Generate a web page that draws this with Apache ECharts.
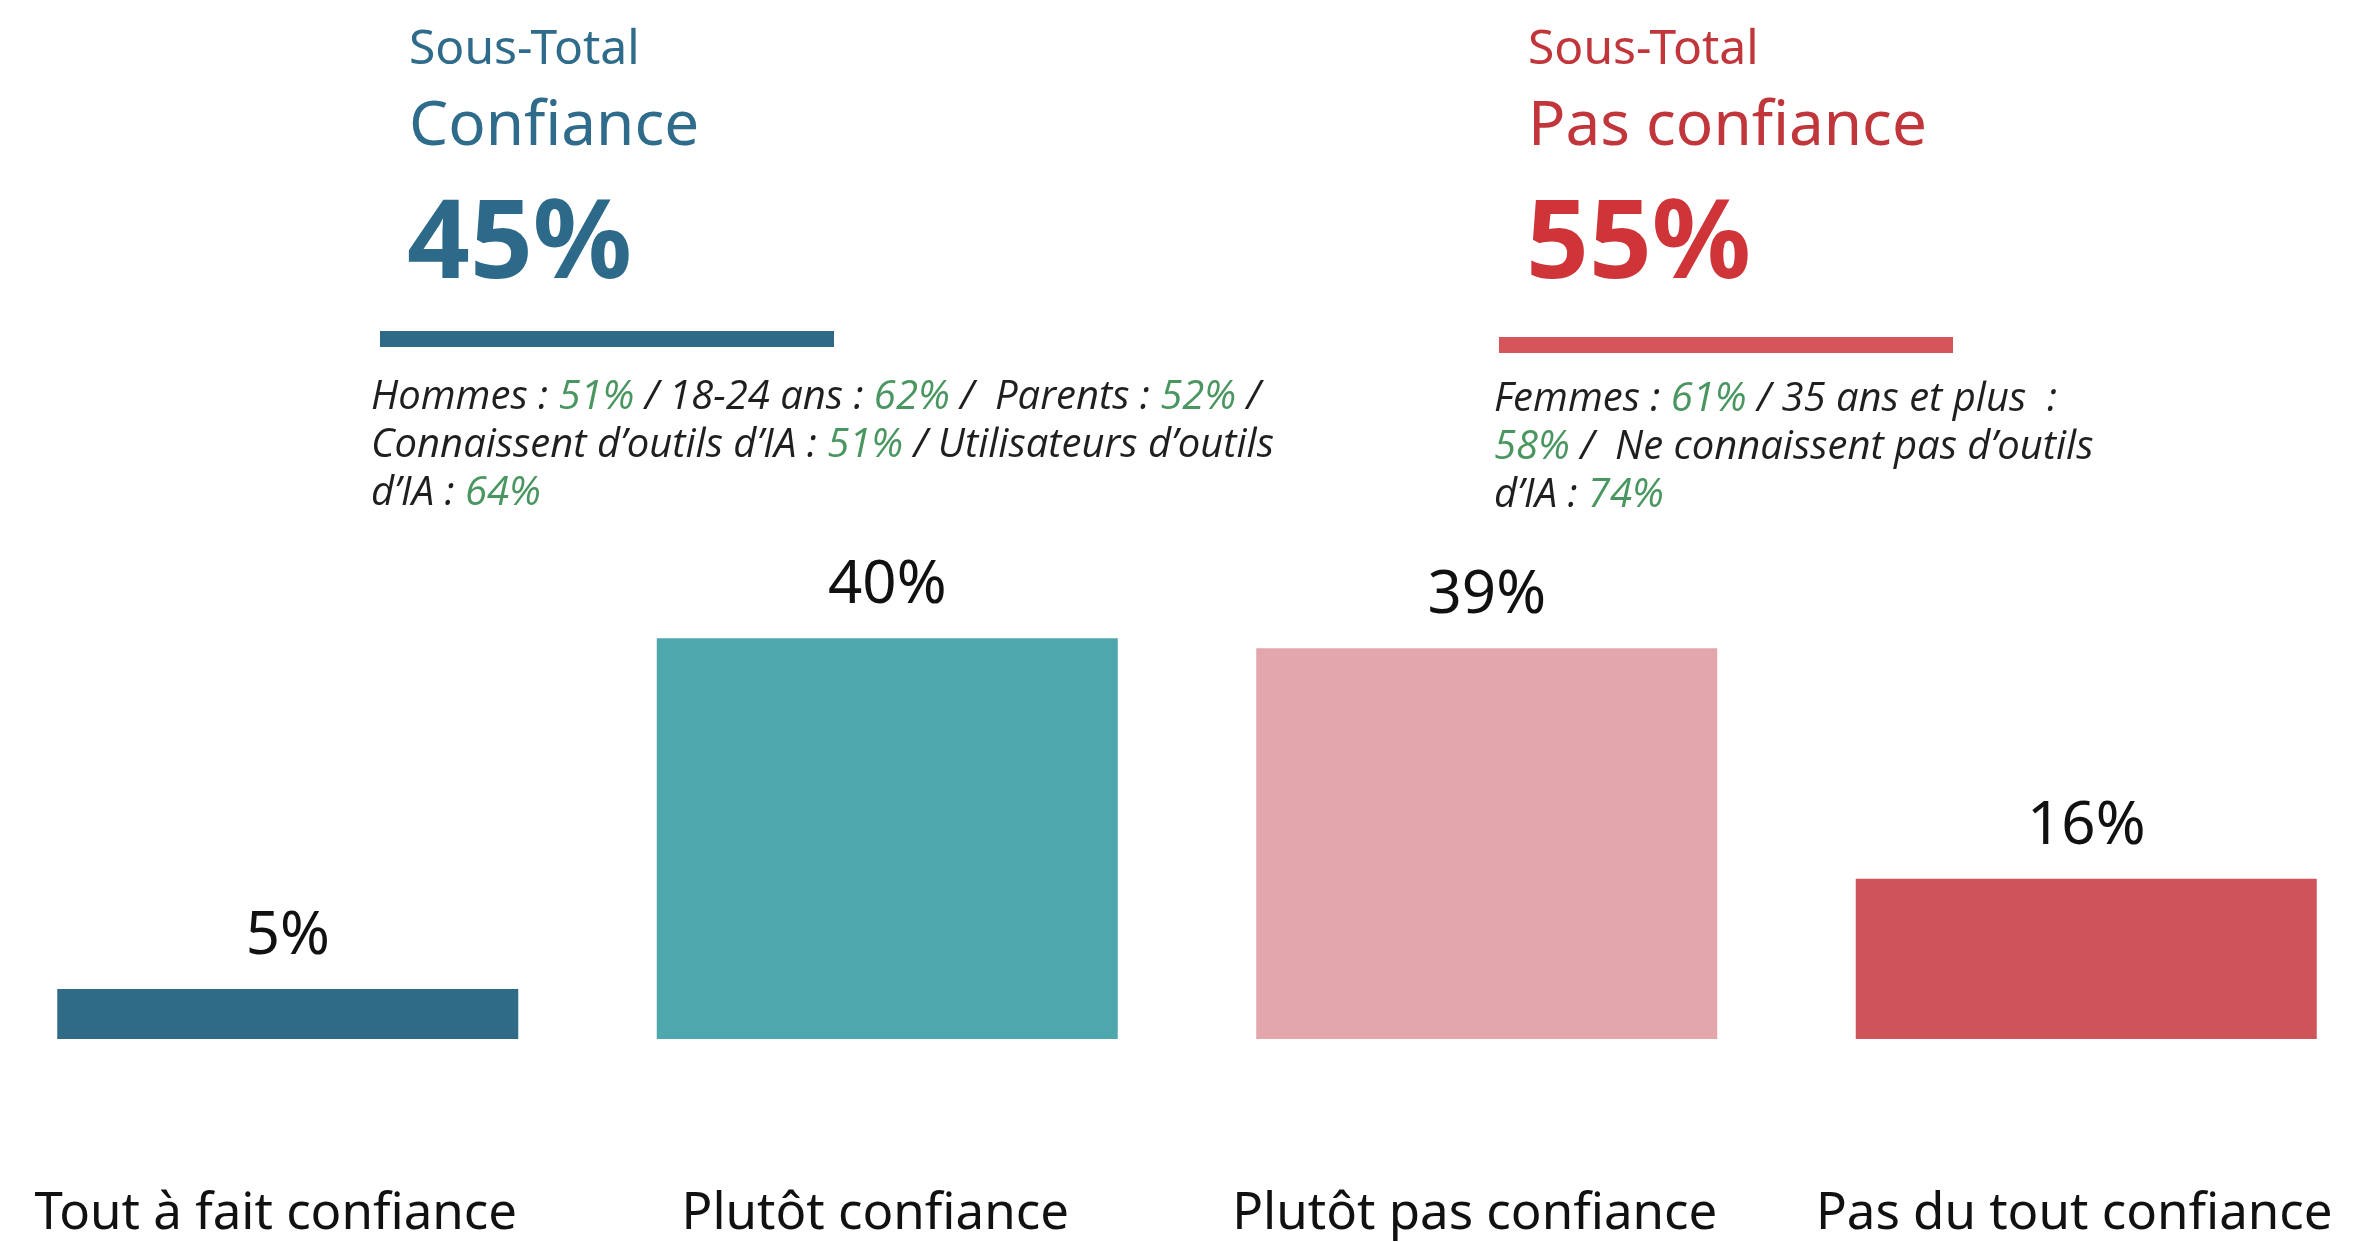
<!DOCTYPE html>
<html><head><meta charset="utf-8">
<script src="https://cdn.jsdelivr.net/npm/echarts@6/dist/echarts.min.js"></script>
<style>html,body{margin:0;padding:0;background:#fff}#c{width:2355px;height:1242px}</style>
</head><body><div id="c"></div>
<script>
const categories = ['Tout à fait confiance', 'Plutôt confiance', 'Plutôt pas confiance', 'Pas du tout confiance'];
const values = [5, 40, 39, 16];
const subtotalTitles = ['Confiance', 'Pas confiance'];
const subtotalValues = [45, 55];
const leftDetails = [['Hommes : ', '51%'], [' / 18-24 ans : ', '62%'], [' /  Parents : ', '52%'], [' /\nConnaissent d’outils d’IA : ', '51%'], [' / Utilisateurs d’outils\nd’IA : ', '64%']];
const rightDetails = [['Femmes : ', '61%'], [' / 35 ans et plus  :\n', '58%'], [' /  Ne connaissent pas d’outils\nd’IA : ', '74%']];

const barColors = ['#2f6a86', '#4fa7ae', '#e3a6ab', '#cf545a'];
const FONT = '"Noto Sans", sans-serif';

function richText(parts) {
  return parts.map(p => {
    const k = p[0].split('\n').map(s => s ? '{k|' + s + '}' : '').join('\n');
    return k + '{v|' + p[1] + '}';
  }).join('');
}
const richStyle = {
  k: { fontFamily: '"Open Sans", sans-serif', fontStyle: 'italic', fontSize: 40, fill: '#1f1f1f', lineHeight: 48 },
  v: { fontFamily: '"Open Sans", sans-serif', fontStyle: 'italic', fontSize: 40, fill: '#4a9660', lineHeight: 48 }
};

function header(x, color, numColor, title, val, barX, barY, barColor) {
  return [
    { type: 'text', style: { text: 'Sous-Total', x: x, y: 50, fill: color, fontFamily: FONT, fontSize: 48, textAlign: 'left', textVerticalAlign: 'middle' } },
    { type: 'text', style: { text: title, x: x, y: 127, fill: color, fontFamily: FONT, fontSize: 62, textAlign: 'left', textVerticalAlign: 'middle' } },
    { type: 'text', style: { text: val + '%', x: x - 2, y: 247, fill: numColor, fontFamily: FONT, fontWeight: 'bold', fontSize: 110, textAlign: 'left', textVerticalAlign: 'middle' } },
    { type: 'rect', shape: { x: barX, y: barY, width: 454, height: 16 }, style: { fill: barColor } }
  ];
}

const chart = echarts.init(document.getElementById('c'));
chart.setOption({
  backgroundColor: '#ffffff',
  animation: false,
  grid: { left: -12, width: 2398, top: 538, bottom: 203, containLabel: false, outerBoundsMode: 'none' },
  xAxis: {
    type: 'category', data: categories,
    axisLine: { show: false }, axisTick: { show: false },
    axisLabel: { margin: 150, fontFamily: FONT, fontSize: 51, color: '#111', interval: 0, padding: [0, 24, 0, 0] }
  },
  yAxis: { type: 'value', min: 0, max: 50, show: false, splitLine: { show: false } },
  series: [{
    type: 'bar', barWidth: 461,
    data: values.map((v, i) => ({ value: v, itemStyle: { color: barColors[i] } })),
    label: { show: true, position: 'top', distance: 22, fontFamily: FONT, fontSize: 60, color: '#111', formatter: p => p.value + '%' }
  }],
  graphic: [].concat(
    header(409, '#2f6b8a', '#2d6a8a', subtotalTitles[0], subtotalValues[0], 380, 331, '#2e6a88'),
    header(1528, '#c1363b', '#cf3439', subtotalTitles[1], subtotalValues[1], 1499, 337, '#d6555a'),
    [
      { type: 'text', style: { text: richText(leftDetails), rich: richStyle, x: 371, y: 374, textAlign: 'left', textVerticalAlign: 'top' } },
      { type: 'text', style: { text: richText(rightDetails), rich: richStyle, x: 1494, y: 376, textAlign: 'left', textVerticalAlign: 'top' } }
    ]
  )
});
</script></body></html>
